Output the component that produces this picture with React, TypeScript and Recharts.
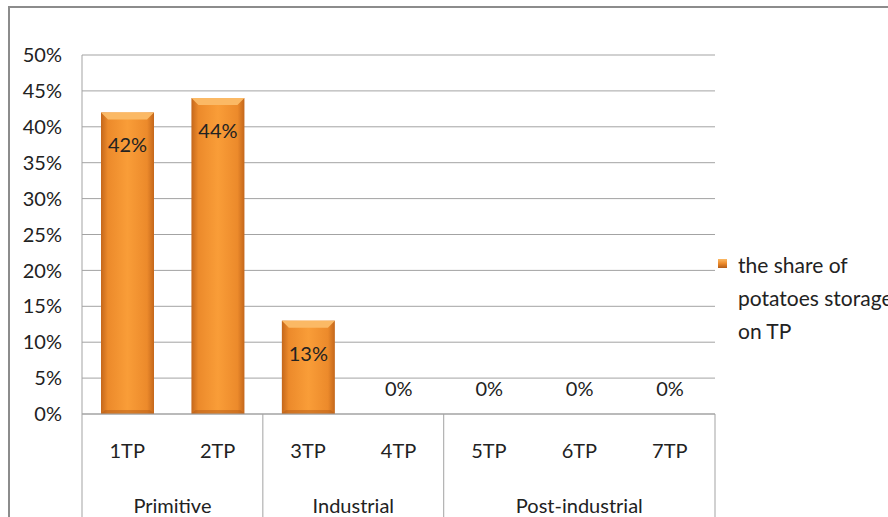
import React from "react";
import {
  BarChart,
  Bar,
  XAxis,
  YAxis,
  CartesianGrid,
  LabelList,
} from "recharts";

const categories = ["1TP", "2TP", "3TP", "4TP", "5TP", "6TP", "7TP"];
const shares = [42, 44, 13, 0, 0, 0, 0];
const groups = [
  "Primitive",
  "Primitive",
  "Industrial",
  "Industrial",
  "Post-industrial",
  "Post-industrial",
  "Post-industrial",
];
const yTicks = [0, 5, 10, 15, 20, 25, 30, 35, 40, 45, 50];
const legendLines = ["the share of", "potatoes storage", "on TP"];

const data = categories.map((tp, i) => ({ tp, share: shares[i], group: groups[i] }));

// layout of the chart
const W = 888;
const H = 517;
const margin = { top: 55, right: 173, left: 22, bottom: 0 };
const yAxisWidth = 60;
const xAxisHeight = 103;
const plotWidth = W - margin.left - yAxisWidth - margin.right;
const band = plotWidth / categories.length;

const font = "Lato, 'Open Sans', sans-serif";
const gray = "#a3a3a3";
const textColor = "#222";

function BevelBar(props: any) {
  const { x, y, width, height, index } = props;
  if (!height || height <= 0) return null;
  const b = 7;
  const id = `barGrad${index}`;
  return (
    <g>
      <defs>
        <linearGradient id={id} x1="0" x2="1" y1="0" y2="0">
          <stop offset="0" stopColor="#c4671b" />
          <stop offset="0.13" stopColor="#ec8a2b" />
          <stop offset="0.5" stopColor="#f99d38" />
          <stop offset="0.87" stopColor="#ec8a2b" />
          <stop offset="1" stopColor="#c4671b" />
        </linearGradient>
      </defs>
      <rect x={x} y={y} width={width} height={height} fill={`url(#${id})`} />
      <polygon
        points={`${x},${y} ${x + width},${y} ${x + width - b},${y + b} ${x + b},${y + b}`}
        fill="#fbb965"
      />
      <polygon
        points={`${x},${y + height} ${x + width},${y + height} ${x + width - 4},${y + height - 4} ${x + 4},${y + height - 4}`}
        fill="#b35c17"
        opacity={0.5}
      />
    </g>
  );
}

function ValueLabel(props: any) {
  const { x, y, width, value } = props;
  const ty = value > 0 ? y + 32 : y - 26;
  return (
    <text
      x={x + width / 2}
      y={ty}
      textAnchor="middle"
      dominantBaseline="central"
      fontFamily={font}
      fontSize={20}
      fill={textColor}
    >
      {`${value}%`}
    </text>
  );
}

function CategoryTick(props: any) {
  const { x, y, payload, index } = props;
  const i = index ?? payload.index;
  const g = groups[i];
  const isFirst = i === 0 || groups[i - 1] !== g;
  const isLast = i === groups.length - 1 || groups[i + 1] !== g;
  let groupLabel = null;
  if (isFirst) {
    const size = groups.filter((v) => v === g).length;
    const cx = x - band / 2 + (size * band) / 2;
    groupLabel = (
      <text
        x={cx}
        y={y + 91}
        textAnchor="middle"
        dominantBaseline="central"
        fontFamily={font}
        fontSize={20}
        fill={textColor}
      >
        {g}
      </text>
    );
  }
  return (
    <g>
      {i === 0 && <line x1={x - band / 2} x2={x - band / 2} y1={y} y2={H} stroke={gray} />}
      {isLast && <line x1={x + band / 2} x2={x + band / 2} y1={y} y2={H} stroke={gray} />}
      <text
        x={x}
        y={y + 36}
        textAnchor="middle"
        dominantBaseline="central"
        fontFamily={font}
        fontSize={20}
        fill={textColor}
      >
        {payload.value}
      </text>
      {groupLabel}
    </g>
  );
}

function LegendBox() {
  return (
    <div
      style={{
        position: "absolute",
        left: 718,
        top: 248,
        display: "flex",
        fontFamily: font,
        fontSize: 21,
        color: textColor,
        lineHeight: "33px",
      }}
    >
      <div
        style={{
          width: 9,
          height: 9,
          marginTop: 11,
          marginRight: 11,
          background: "linear-gradient(180deg, #fbb965 0%, #ec8a2b 50%, #b35c17 100%)",
          flex: "none",
        }}
      />
      <div style={{ whiteSpace: "nowrap" }}>
        {legendLines.map((l) => (
          <div key={l}>{l}</div>
        ))}
      </div>
    </div>
  );
}

export default function App() {
  return (
    <div
      style={{
        position: "absolute",
        left: 0,
        top: 0,
        width: W,
        height: H,
        overflow: "hidden",
        background: "#fff",
      }}
    >
      <div
        style={{
          position: "absolute",
          left: 0,
          width: W,
          top: -20,
          textAlign: "center",
          fontFamily: "'Liberation Serif', 'Times New Roman', serif",
          fontStyle: "italic",
          fontSize: 17,
          color: "#000",
          whiteSpace: "nowrap",
        }}
      >
        Figure 3. The share of technology types by stages of technology of potatoes storage organizing
      </div>
      <div
        style={{
          position: "absolute",
          left: 8,
          top: 6,
          width: W,
          height: H,
          border: "2px solid #8c8c8c",
        }}
      />
      <div style={{ position: "absolute", left: 0, top: 0 }}>
        <BarChart width={W} height={H} data={data} margin={margin}>
          <CartesianGrid vertical={false} stroke={gray} />
          <XAxis
            dataKey="tp"
            interval={0}
            height={xAxisHeight}
            tickLine={false}
            tickSize={0}
            tickMargin={0}
            axisLine={{ stroke: gray }}
            tick={<CategoryTick />}
          />
          <YAxis
            width={yAxisWidth}
            domain={[0, 50]}
            ticks={yTicks}
            tickFormatter={(v: number) => `${v}%`}
            tickLine={false}
            tickSize={0}
            tickMargin={20}
            axisLine={{ stroke: gray }}
            tick={{ fill: textColor, fontSize: 20, fontFamily: font }}
          />
          <Bar
            dataKey="share"
            name="the share of potatoes storage on TP"
            barSize={53}
            shape={<BevelBar />}
            isAnimationActive={false}
          >
            <LabelList dataKey="share" content={<ValueLabel />} />
          </Bar>
        </BarChart>
      </div>
      <LegendBox />
    </div>
  );
}
